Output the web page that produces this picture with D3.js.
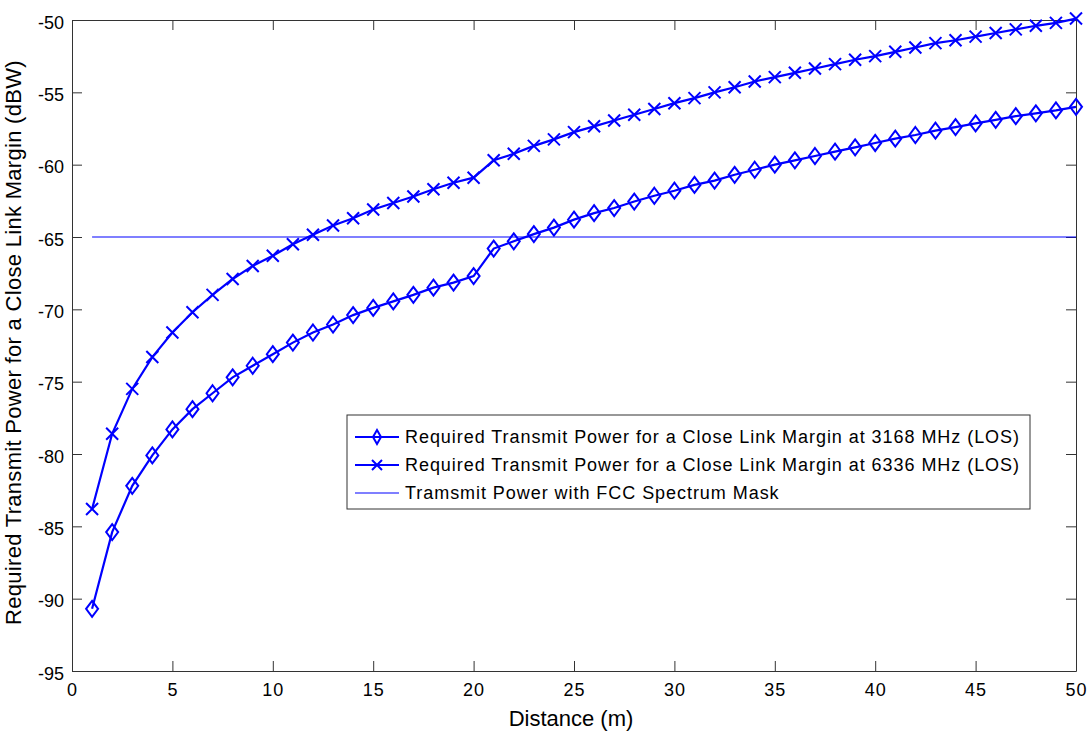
<!DOCTYPE html>
<html>
<head>
<meta charset="utf-8">
<script src="https://cdn.jsdelivr.net/npm/d3@7"></script>
<style>
  body { margin: 0; background: #fff; }
  svg { font-family: Arial, "Liberation Sans", sans-serif; }
</style>
</head>
<body>
<div id="chart"></div>
<script>
// distance (m)
const distance = d3.range(1, 51);

// required transmit power at 3168 MHz (LOS), dBW
const power3168 = [
  -90.7, -85.4, -82.2, -80.1, -78.3, -76.9, -75.8, -74.7, -73.9, -73.1,
  -72.3, -71.6, -71.05, -70.4, -69.9, -69.45, -69.0, -68.5, -68.15, -67.7,
  -65.8, -65.3, -64.8, -64.35, -63.8, -63.35, -63.0, -62.55, -62.15, -61.8,
  -61.4, -61.1, -60.7, -60.35, -60.0, -59.7, -59.4, -59.1, -58.8, -58.5,
  -58.2, -57.95, -57.65, -57.4, -57.15, -56.9, -56.65, -56.45, -56.25, -56.0
];

// required transmit power at 6336 MHz (LOS), dBW
const power6336 = [
  -83.8, -78.6, -75.5, -73.3, -71.6, -70.2, -69.0, -67.9, -67.0, -66.3,
  -65.5, -64.85, -64.2, -63.7, -63.1, -62.65, -62.2, -61.7, -61.25, -60.9,
  -59.7, -59.25, -58.7, -58.25, -57.75, -57.35, -56.95, -56.55, -56.15, -55.75,
  -55.4, -55.0, -54.65, -54.25, -53.95, -53.65, -53.35, -53.05, -52.75, -52.5,
  -52.2, -51.9, -51.6, -51.4, -51.15, -50.9, -50.65, -50.4, -50.2, -49.9
];

// FCC spectrum mask level
const fccLevel = -65;
const fccRange = [1, 50];

const xTicks = d3.range(0, 51, 5);
const yTicks = d3.range(-95, -49, 5);

const legendLabels = [
  'Required Transmit Power for a Close Link Margin at 3168 MHz (LOS)',
  'Required Transmit Power for a Close Link Margin at 6336 MHz (LOS)',
  'Tramsmit Power with FCC Spectrum Mask'
];

const W = 1092, H = 733;
const margin = {top: 20, right: 16, bottom: 62, left: 72};
const width = W - margin.left - margin.right;
const height = H - margin.top - margin.bottom;
const blue = '#0000ff';
const axisColor = '#333';

const svg = d3.select('#chart').append('svg')
    .attr('width', W)
    .attr('height', H);

const g = svg.append('g')
    .attr('transform', `translate(${margin.left},${margin.top})`);

const x = d3.scaleLinear().domain([0, 50]).range([0, width]);
const y = d3.scaleLinear().domain([-95, -50]).range([height, 0]);

const plain = d => String(d);  // keep ascii hyphen like the original

// axes box with inward ticks on all four sides
g.append('g')
    .attr('transform', `translate(0,${height})`)
    .call(d3.axisBottom(x).tickValues(xTicks).tickFormat(plain)
      .tickSizeInner(-10).tickSizeOuter(0).tickPadding(12))
    .call(a => a.selectAll('text').attr('font-size', 18).attr('fill', '#000').attr('letter-spacing', 1));

g.append('g')
    .call(d3.axisLeft(y).tickValues(yTicks).tickFormat(plain)
      .tickSizeInner(-10).tickSizeOuter(0).tickPadding(8))
    .call(a => a.selectAll('text').attr('font-size', 18).attr('fill', '#000').attr('dy', '0.45em'));

g.append('g')
    .call(d3.axisTop(x).tickValues(xTicks).tickSizeInner(-10).tickSizeOuter(0).tickFormat(''));

g.append('g')
    .attr('transform', `translate(${width},0)`)
    .call(d3.axisRight(y).tickValues(yTicks).tickSizeInner(-10).tickSizeOuter(0).tickFormat(''));

g.selectAll('.domain, .tick line').attr('stroke', axisColor);

// FCC line
g.append('line')
    .attr('x1', x(fccRange[0])).attr('x2', x(fccRange[1]))
    .attr('y1', y(fccLevel)).attr('y2', y(fccLevel))
    .attr('stroke', blue)
    .attr('stroke-width', 1.2);

const line = d3.line()
    .x((d, i) => x(distance[i]))
    .y(d => y(d));

const diamond = 'M0,-8L6,0L0,8L-6,0Z';
const cross = 'M-6,-6L6,6M-6,6L6,-6';

function drawSeries(values, marker) {
  const s = g.append('g');
  s.append('path')
      .datum(values)
      .attr('d', line)
      .attr('fill', 'none')
      .attr('stroke', blue)
      .attr('stroke-width', 2.2);
  s.selectAll('.m')
    .data(values)
    .join('path')
      .attr('class', 'm')
      .attr('transform', (d, i) => `translate(${x(distance[i])},${y(d)})`)
      .attr('d', marker)
      .attr('fill', 'none')
      .attr('stroke', blue)
      .attr('stroke-width', 2);
}

drawSeries(power3168, diamond);
drawSeries(power6336, cross);

// axis labels
svg.append('text')
    .attr('x', margin.left + x(25) - 3)
    .attr('y', 726)
    .attr('text-anchor', 'middle')
    .attr('font-size', 22)
    .text('Distance (m)');

svg.append('text')
    .attr('transform', `translate(21,${margin.top + height / 2 - 3}) rotate(-90)`)
    .attr('text-anchor', 'middle')
    .attr('font-size', 22)
    .attr('letter-spacing', 0.3)
    .text('Required Transmit Power for a Close Link Margin (dBW)');

// legend
const legend = svg.append('g').attr('transform', 'translate(347,415)');
legend.append('rect')
    .attr('width', 683).attr('height', 94)
    .attr('fill', '#fff')
    .attr('stroke', axisColor);

const markers = ['diamond', 'cross', null];
legendLabels.forEach((label, i) => {
  const row = legend.append('g').attr('transform', `translate(0,${22 + i * 28})`);
  row.append('line')
      .attr('x1', 8).attr('x2', 52)
      .attr('stroke', blue)
      .attr('stroke-width', i < 2 ? 2.2 : 1.2);
  if (markers[i]) {
    row.append('path')
        .attr('transform', 'translate(30,0)')
        .attr('d', markers[i] === 'diamond' ? 'M0,-7L4,0L0,7L-4,0Z' : 'M-5,-5L5,5M-5,5L5,-5')
        .attr('fill', 'none')
        .attr('stroke', blue)
        .attr('stroke-width', 2);
  }
  row.append('text')
      .attr('x', 58)
      .attr('dy', '0.35em')
      .attr('font-size', 18)
      .attr('letter-spacing', 0.95)
      .text(label);
});
</script>
</body>
</html>
